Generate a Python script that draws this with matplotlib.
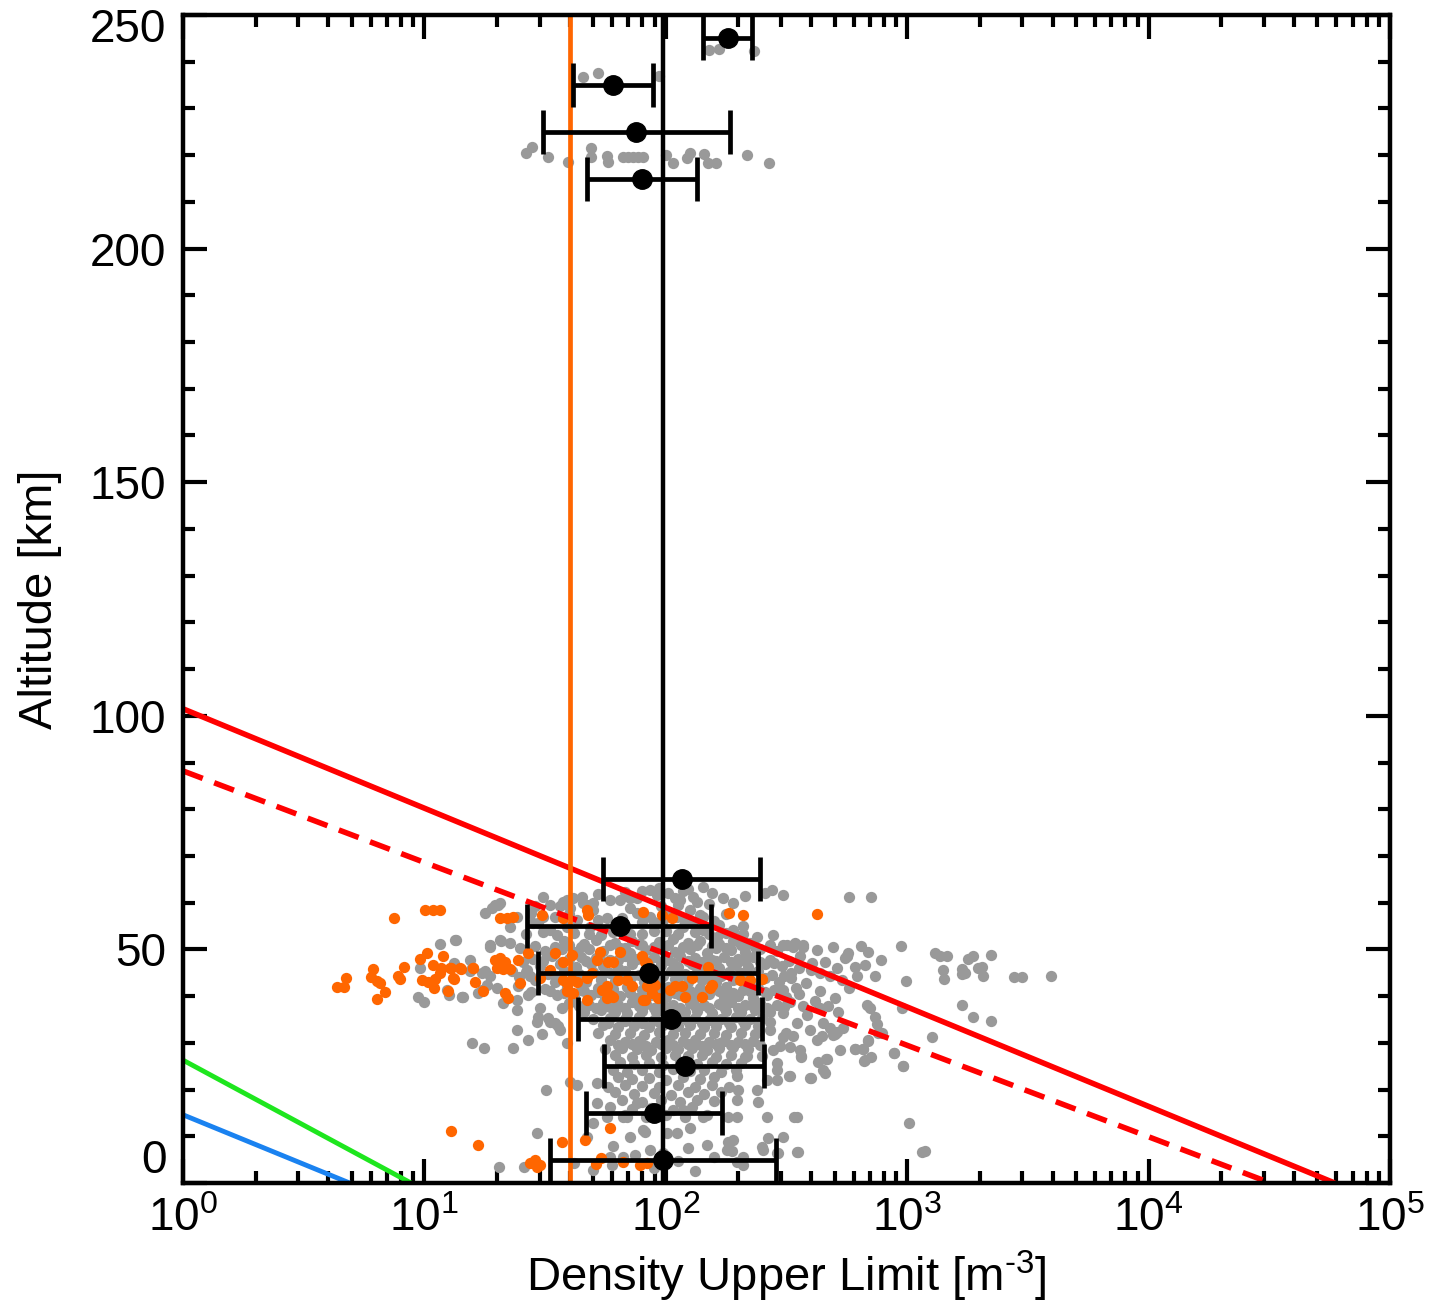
import matplotlib
matplotlib.use("Agg")
import numpy as np
import matplotlib.pyplot as plt
import matplotlib.transforms as mtransforms
from matplotlib.ticker import FixedLocator, MultipleLocator, LogLocator, NullFormatter

plt.rcParams['font.family'] = ['Liberation Sans', 'DejaVu Sans']
plt.rcParams['mathtext.fontset'] = 'custom'
plt.rcParams['mathtext.rm'] = 'Liberation Sans'
plt.rcParams['mathtext.it'] = 'Liberation Sans:italic'
plt.rcParams['mathtext.bf'] = 'Liberation Sans:bold'

# ---------------------------------------------------------------------------
# Individual density upper limits: (log10 density [m^-3], altitude [km])
# ---------------------------------------------------------------------------
gray_points = [
    # high-altitude group
    (2.179, 242.5), (2.220, 242.7), (2.365, 242.3),
    (1.657, 236.7), (1.719, 237.6), (1.972, 237.0),
    (1.421, 220.5), (1.446, 221.7), (1.512, 219.6), (1.595, 218.5), (1.690, 221.5),
    (1.690, 219.6), (1.756, 219.8), (1.761, 218.5), (1.823, 219.6), (1.843, 219.6),
    (1.864, 219.6), (1.885, 219.6), (1.906, 219.6), (2.001, 220.0), (2.030, 218.3),
    (2.088, 219.4), (2.100, 220.5), (2.158, 220.2), (2.175, 218.3), (2.208, 218.3),
    (2.336, 220.0), (2.428, 218.3),
    # low-density fringe
    (1.065, 51.2), (1.131, 52.0), (0.982, 46.0), (1.123, 47.0), (1.189, 45.4),
    (0.975, 39.9), (1.000, 38.8), (1.103, 40.3), (1.157, 39.9), (1.224, 40.6),
    (1.292, 59.5), (1.313, 59.9), (1.251, 57.7), (1.272, 50.9), (1.316, 51.7),
    (1.355, 51.3), (1.396, 50.3), (1.127, 52.0), (1.196, 46.0), (1.251, 45.3),
    (1.272, 44.2), (1.362, 45.3), (1.424, 45.6), (1.437, 44.2), (1.092, 41.3),
    (1.154, 39.9), (1.258, 42.4), (1.237, 41.3), (1.299, 41.7), (1.389, 42.1),
    (1.430, 40.3), (1.382, 39.2), (1.479, 37.4), (1.472, 35.6), (1.513, 35.3),
    (1.520, 34.5), (1.465, 34.5), (1.541, 34.2), (1.555, 33.5), (1.382, 32.8),
    (1.493, 61.3), (1.458, 59.2), (1.520, 59.5), (1.575, 60.2), (1.589, 60.6),
    (1.617, 61.0), (1.651, 61.3), (1.541, 57.0), (1.472, 55.6), (1.603, 58.8),
    (1.672, 59.5), (1.700, 59.9), (1.279, 58.8), (1.306, 59.5), (1.237, 44.9),
    (1.161, 39.9), (1.327, 38.5), (1.382, 37.0), (1.562, 32.8), (1.189, 47.7),
    (1.272, 50.6), (1.313, 52.0), (1.355, 54.9), (1.382, 57.0), (1.451, 55.6),
    (1.493, 57.0), (1.520, 54.2), (1.589, 54.9), (1.631, 56.3), (1.686, 54.9),
    (1.755, 56.7), (1.700, 58.4), (1.658, 59.9), (1.562, 59.2),
    # upper band 52-63 km
    (1.769, 60.6), (1.810, 60.6), (1.852, 60.9), (1.900, 62.4), (1.934, 62.7),
    (1.962, 61.7), (2.010, 62.0), (2.059, 60.6), (2.073, 62.4), (2.114, 61.3),
    (2.128, 60.2), (2.155, 63.4), (2.238, 60.9), (2.280, 59.9), (1.852, 58.8),
    (1.879, 57.7), (1.934, 57.0), (2.003, 57.7), (2.045, 57.0), (2.100, 58.4),
    (2.155, 57.0), (2.073, 54.9), (2.155, 54.2), (2.211, 52.7), (2.280, 54.2),
    (2.321, 53.4), (2.376, 52.7), (2.411, 62.0), (2.439, 62.7), (2.487, 61.6),
    (2.759, 61.3), (2.850, 61.3), (2.445, 53.1), (2.501, 51.0), (2.535, 51.3),
    (2.570, 51.0), (2.756, 49.2), (2.742, 48.1),
    (1.80, 55.3), (1.95, 55.8), (2.00, 53.9), (2.11, 55.6), (2.20, 56.1),
    (1.90, 53.4), (2.25, 57.5), (1.73, 53.0), (2.05, 59.5), (1.98, 59.3), (2.18, 59.8),
    (1.42, 53.3), (1.49, 53.8), (1.55, 53.1), (1.62, 53.6), (1.68, 53.2), (1.78, 53.7),
    (1.85, 53.3), (1.95, 53.9), (2.05, 53.4), (2.12, 53.8), (2.18, 53.2), (2.25, 53.6),
    (2.32, 55.0),
    (1.44, 57.8), (1.60, 57.5), (1.72, 56.2), (1.82, 56.8), (1.90, 55.9), (1.99, 56.4),
    (2.08, 56.0), (2.14, 57.4), (2.22, 55.2),
    (1.72, 61.8), (1.83, 62.2), (1.88, 61.0), (1.97, 63.2), (2.04, 61.0), (2.09, 63.0),
    (2.19, 62.0), (2.33, 61.5),
    # dense core 36-52 km
    (1.58, 51.8), (1.66, 51.2), (1.71, 52.1), (1.79, 51.4), (1.86, 51.9), (1.90, 51.0),
    (1.97, 51.6), (2.03, 52.2), (2.09, 51.3), (2.14, 51.9), (2.22, 51.1), (2.28, 51.7),
    (2.35, 51.4),
    (1.46, 50.8), (1.54, 50.5), (1.60, 51.0), (1.65, 50.6), (1.77, 50.9), (1.83, 50.4),
    (1.89, 51.1), (1.95, 50.6), (2.01, 50.9), (2.07, 50.5), (2.13, 51.0), (2.19, 50.7),
    (2.25, 50.4), (2.31, 50.9), (2.37, 50.6), (2.43, 51.0),
    (1.50, 49.6), (1.57, 50.1), (1.62, 49.4), (1.68, 50.0), (1.74, 49.7), (1.81, 50.3),
    (1.85, 49.2), (1.92, 49.9), (1.99, 50.2), (2.04, 49.5), (2.10, 50.0), (2.17, 49.3),
    (2.21, 50.4), (2.27, 49.8), (2.33, 49.4), (2.39, 50.1), (2.46, 49.6),
    (1.45, 48.0), (1.53, 48.5), (1.60, 47.9), (1.65, 48.4), (1.71, 48.1), (1.77, 47.7),
    (1.83, 48.6), (1.88, 48.0), (1.95, 48.3), (2.01, 47.8), (2.06, 48.5), (2.12, 48.1),
    (2.19, 47.7), (2.24, 48.4), (2.30, 48.0), (2.36, 48.3), (2.43, 47.8),
    (1.41, 47.3), (1.49, 47.6), (1.57, 47.2), (1.67, 47.5), (1.74, 47.3), (1.80, 47.7),
    (1.86, 47.2), (1.92, 47.5), (1.98, 47.4), (2.03, 47.1), (2.09, 47.6), (2.15, 47.3),
    (2.21, 47.5), (2.27, 47.2), (2.33, 47.6), (2.39, 47.4), (2.45, 47.1), (2.51, 47.5),
    (1.48, 46.4), (1.56, 46.9), (1.63, 46.3), (1.69, 46.8), (1.74, 46.5), (1.80, 46.1),
    (1.86, 46.9), (1.93, 46.4), (1.98, 46.7), (2.05, 46.2), (2.11, 46.8), (2.16, 46.5),
    (2.22, 46.1), (2.29, 46.7), (2.34, 46.3), (2.41, 46.8), (2.48, 46.4), (2.55, 46.0),
    (1.42, 45.2), (1.51, 44.8), (1.58, 45.3), (1.64, 44.7), (1.70, 45.1), (1.77, 44.9),
    (1.83, 45.4), (1.89, 44.6), (1.96, 45.0), (2.02, 45.3), (2.08, 44.8), (2.13, 45.2),
    (2.20, 44.7), (2.26, 45.1), (2.31, 44.9), (2.38, 45.3), (2.44, 44.6), (2.52, 45.0),
    (1.39, 44.0), (1.48, 44.3), (1.55, 44.0), (1.62, 44.4), (1.67, 43.9), (1.73, 44.2),
    (1.80, 44.0), (1.86, 44.4), (1.93, 43.9), (1.99, 44.2), (2.05, 44.0), (2.11, 44.4),
    (2.17, 43.9), (2.23, 44.2), (2.29, 44.0), (2.34, 44.4), (2.41, 43.9), (2.49, 44.2),
    (1.46, 43.5), (1.54, 43.1), (1.61, 43.6), (1.67, 43.0), (1.73, 43.4), (1.79, 43.2),
    (1.85, 43.7), (1.91, 43.0), (1.97, 43.3), (2.04, 43.6), (2.09, 43.1), (2.15, 43.4),
    (2.21, 43.0), (2.28, 43.5), (2.35, 43.2), (2.40, 43.6), (2.47, 43.1),
    (1.50, 41.5), (1.59, 41.9), (1.65, 41.4), (1.72, 41.8), (1.78, 41.6), (1.84, 42.0),
    (1.90, 41.3), (1.95, 41.7), (2.01, 41.9), (2.07, 41.4), (2.14, 41.8), (2.19, 41.5),
    (2.25, 41.9), (2.32, 41.4), (2.38, 41.7), (2.45, 41.3), (2.54, 41.8),
    (1.44, 40.8), (1.52, 41.1), (1.58, 40.7), (1.66, 41.0), (1.72, 40.8), (1.78, 41.2),
    (1.85, 40.7), (1.91, 41.0), (1.98, 40.9), (2.04, 40.6), (2.10, 41.1), (2.16, 40.8),
    (2.22, 41.0), (2.28, 40.7), (2.35, 41.1), (2.41, 40.8), (2.48, 41.0),
    (1.55, 40.2), (1.62, 39.8), (1.69, 40.3), (1.75, 39.9), (1.81, 40.1), (1.88, 39.7),
    (1.94, 40.3), (2.00, 39.9), (2.06, 40.2), (2.12, 39.8), (2.18, 40.4), (2.24, 39.9),
    (2.30, 40.1), (2.36, 39.7), (2.42, 40.2), (2.50, 39.8),
    (1.60, 38.6), (1.68, 38.2), (1.74, 38.5), (1.80, 38.1), (1.86, 38.7), (1.92, 38.3),
    (1.98, 38.5), (2.03, 38.0), (2.10, 38.6), (2.16, 38.2), (2.22, 38.4), (2.27, 38.7),
    (2.33, 38.1), (2.39, 38.5), (2.46, 38.2),
    (1.57, 37.5), (1.64, 37.8), (1.71, 37.4), (1.77, 37.7), (1.83, 37.5), (1.89, 37.9),
    (1.95, 37.4), (2.00, 37.7), (2.06, 37.5), (2.12, 37.8), (2.18, 37.4), (2.24, 37.7),
    (2.30, 37.5), (2.36, 37.8), (2.42, 37.4), (2.49, 37.6),
    (1.66, 36.6), (1.73, 37.0), (1.79, 36.7), (1.84, 36.4), (1.90, 36.9), (1.96, 36.5),
    (2.02, 37.0), (2.08, 36.6), (2.13, 36.9), (2.19, 36.4), (2.25, 36.8), (2.31, 36.5),
    (2.37, 37.0), (2.43, 36.6),
    # 14-36 km
    (1.70, 35.0), (1.77, 35.4), (1.83, 35.1), (1.89, 35.5), (1.95, 34.9), (2.01, 35.3),
    (2.06, 35.0), (2.12, 35.4), (2.18, 34.9), (2.23, 35.2), (2.29, 35.5), (2.35, 35.0),
    (2.40, 35.3),
    (1.76, 34.3), (1.83, 34.6), (1.90, 34.2), (1.97, 34.5), (2.03, 34.3), (2.09, 34.7),
    (2.15, 34.2), (2.21, 34.5), (2.26, 34.3), (2.32, 34.6), (2.43, 34.4),
    (1.74, 33.8), (1.80, 33.4), (1.87, 33.7), (1.93, 33.3), (1.99, 33.8), (2.05, 33.5),
    (2.10, 33.9), (2.16, 33.4), (2.21, 33.7), (2.27, 33.3), (2.33, 33.8), (2.38, 33.5),
    (1.72, 32.2), (1.79, 31.8), (1.85, 32.1), (1.91, 31.7), (1.97, 32.3), (2.03, 31.9),
    (2.08, 32.2), (2.14, 31.8), (2.20, 32.1), (2.25, 31.7), (2.31, 32.2), (2.37, 31.9),
    (1.77, 30.6), (1.83, 30.2), (1.89, 30.5), (1.96, 30.1), (2.01, 30.7), (2.07, 30.3),
    (2.12, 30.6), (2.18, 30.2), (2.24, 30.5), (2.30, 30.1), (2.36, 30.4),
    (1.80, 29.5), (1.86, 29.8), (1.92, 29.4), (1.98, 29.7), (2.03, 29.5), (2.09, 29.8),
    (2.15, 29.4), (2.21, 29.7), (2.27, 29.5), (2.33, 29.8), (2.39, 29.6),
    (1.75, 28.6), (1.82, 29.0), (1.88, 28.7), (1.94, 28.5), (2.00, 29.0), (2.05, 28.6),
    (2.11, 28.9), (2.17, 28.5), (2.22, 28.8), (2.28, 29.1), (2.34, 28.6),
    (1.79, 27.4), (1.86, 27.0), (1.92, 27.3), (1.98, 26.9), (2.04, 27.4), (2.09, 27.1),
    (2.15, 27.5), (2.21, 27.0), (2.27, 27.3), (2.33, 26.9), (2.40, 27.2),
    (1.81, 25.8), (1.87, 25.4), (1.93, 25.7), (1.99, 25.3), (2.06, 25.8), (2.13, 25.5),
    (2.19, 25.9), (2.25, 25.4), (2.31, 25.7),
    (1.78, 24.2), (1.84, 23.8), (1.90, 24.1), (1.97, 23.7), (2.03, 24.3), (2.10, 23.9),
    (2.16, 24.2), (2.23, 23.8), (2.29, 24.1),
    (1.80, 22.6), (1.86, 22.2), (1.93, 22.5), (2.00, 22.1), (2.07, 22.6), (2.14, 22.3),
    (2.20, 22.7),
    (1.76, 20.6), (1.83, 21.0), (1.90, 20.7), (1.97, 20.5), (2.05, 21.0), (2.12, 20.6),
    (2.19, 20.9), (2.26, 20.5),
    (1.79, 19.4), (1.87, 19.0), (1.95, 19.3), (2.02, 18.9), (2.09, 19.4), (2.16, 19.1),
    (2.23, 19.5),
    (1.82, 17.8), (1.90, 17.4), (1.98, 17.7), (2.06, 17.3), (2.13, 17.8), (2.20, 17.5),
    (1.77, 16.2), (1.86, 15.8), (1.94, 16.1), (2.03, 15.7), (2.11, 16.2),
    (1.83, 14.6), (1.92, 14.2), (2.00, 14.5), (2.08, 14.1), (2.17, 14.6),
    # high-density tail
    (2.432, 50.6), (2.487, 51.0), (2.528, 50.6), (2.570, 50.6), (2.556, 48.5),
    (2.604, 47.1), (2.639, 44.9), (2.680, 44.2), (2.728, 43.5), (2.749, 48.5),
    (2.694, 50.6), (2.625, 49.9), (2.487, 41.3), (2.515, 38.8), (2.570, 37.8),
    (2.487, 36.3), (2.542, 34.2), (2.597, 32.8), (2.653, 34.2), (2.694, 31.7),
    (2.708, 32.4), (2.625, 30.6), (2.556, 28.5), (2.487, 31.3), (2.515, 29.2),
    (2.445, 28.5), (2.432, 32.8), (2.459, 25.7), (2.418, 22.1), (2.515, 22.8),
    (2.597, 22.4), (2.653, 24.2), (2.542, 14.2), (2.418, 14.2), (2.487, 9.9),
    (2.404, 7.1), (2.542, 6.7), (2.459, 6.4), (2.280, 9.2), (2.252, 7.1), (2.321, 5.6),
    (2.045, 10.7), (2.100, 11.7), (2.155, 14.2), (2.073, 15.6), (2.003, 10.7),
    (1.935, 7.1), (1.852, 9.9), (1.824, 5.6), (1.769, 5.6), (1.907, 11.3),
    (1.879, 17.1), (1.838, 14.2), (1.672, 9.9), (1.700, 12.8), (1.713, 17.1),
    (2.225, 30.0), (2.335, 27.2), (2.294, 22.8), (2.301, 19.9), (2.294, 17.8),
    (2.383, 17.4), (2.376, 19.9), (2.531, 14.1), (2.259, 14.1), (2.294, 14.1),
    (2.259, 8.8), (2.273, 6.9), (2.397, 7.7), (2.425, 9.6), (2.466, 6.4), (2.549, 6.7),
    (2.294, 4.6), (2.321, 3.9), (2.459, 24.2), (2.459, 22.0), (2.512, 22.8),
    (2.600, 22.4), (2.659, 23.5), (2.473, 29.3), (2.559, 26.9), (2.632, 26.0),
    (2.664, 26.5), (2.722, 28.4), (2.784, 28.6), (2.816, 28.6), (2.821, 26.2),
    (2.849, 26.9), (2.839, 30.6), (2.880, 32.2), (2.945, 27.9), (2.981, 25.0),
    (3.104, 31.3), (3.009, 12.8), (3.060, 6.7), (3.074, 6.9), (2.500, 32.0),
    (2.528, 31.5), (2.646, 31.5), (2.694, 32.0),
    (2.807, 50.8), (2.836, 49.4), (2.752, 48.5), (2.892, 47.7), (2.973, 50.8),
    (2.825, 46.7), (2.784, 46.2), (2.867, 44.3), (2.993, 43.3), (3.115, 49.2),
    (3.136, 48.5), (3.164, 48.6), (3.149, 45.6), (3.153, 43.7), (3.229, 45.8),
    (3.239, 44.9), (3.225, 44.7), (3.253, 47.9), (3.274, 48.6), (3.292, 46.0),
    (3.308, 46.3), (3.312, 44.2), (3.349, 48.8), (3.444, 44.1), (3.474, 44.0),
    (3.596, 44.2), (3.225, 38.1), (3.274, 35.6), (3.347, 34.7), (2.977, 37.4),
    (2.832, 38.1), (2.846, 37.4), (2.867, 35.6), (2.874, 34.0), (2.894, 32.2),
    (2.839, 30.5), (2.818, 28.7), (2.825, 26.4), (2.784, 28.7), (2.666, 26.6),
    (2.562, 27.1), (2.701, 31.9), (2.680, 33.2), (2.735, 33.2), (2.715, 36.7),
    (2.639, 37.5), (2.584, 36.0), (2.945, 27.8), (2.984, 25.1),
    (2.60, 45.5), (2.66, 47.3), (2.58, 42.8), (2.64, 41.0), (2.70, 39.6), (2.52, 43.9),
    (2.76, 41.8), (2.79, 44.3), (2.62, 39.0), (2.55, 40.5), (2.71, 46.0), (2.67, 37.8),
    # near-surface
    (1.196, 29.9), (1.248, 29.0), (1.368, 28.8), (1.430, 30.6), (1.486, 31.9),
    (1.504, 19.8), (1.465, 10.7), (1.310, 3.5), (1.414, 3.5), (1.589, 29.9),
    (1.603, 21.7), (1.631, 21.0), (1.713, 21.4), (1.755, 14.2), (1.824, 14.2),
    (1.914, 11.0), (1.872, 6.0), (1.776, 3.9),
    (1.62, 4.2), (1.70, 2.8), (1.95, 3.2), (2.05, 4.8), (2.12, 2.6), (2.20, 5.5),
    (1.99, 6.5), (2.17, 8.2), (2.09, 7.5), (1.78, 8.0),
]

orange_points = [
    (1.003, 58.4), (1.034, 58.4), (1.065, 58.4), (0.873, 56.7), (0.982, 47.9),
    (1.011, 49.3), (1.076, 48.6), (1.034, 46.7), (1.067, 46.0), (1.065, 45.0),
    (1.109, 46.1), (1.152, 45.9), (1.200, 46.0), (1.211, 43.0), (0.788, 45.8),
    (0.674, 43.9), (0.637, 42.0), (0.668, 42.0), (0.778, 44.0), (0.802, 43.2),
    (0.816, 42.9), (0.837, 40.9), (0.802, 39.4), (0.892, 44.2), (0.899, 43.6),
    (0.916, 46.2), (0.991, 43.5), (1.016, 43.1), (1.044, 43.7), (1.041, 41.7),
    (1.099, 41.2), (1.124, 43.7),
    (1.313, 56.7), (1.341, 56.7), (1.368, 56.9), (1.106, 46.0), (1.147, 46.0),
    (1.120, 43.8), (1.202, 46.0), (1.244, 41.0), (1.292, 47.7), (1.313, 48.1),
    (1.334, 47.4), (1.299, 46.0), (1.327, 45.8), (1.355, 45.8), (1.389, 47.7),
    (1.430, 49.2), (1.396, 42.8), (1.334, 40.6), (1.348, 39.6), (1.486, 57.4),
    (1.575, 56.7), (1.672, 58.4), (1.679, 57.4), (1.541, 49.2), (1.575, 47.4),
    (1.610, 48.8), (1.479, 43.8), (1.520, 45.6), (1.575, 43.5), (1.589, 42.8),
    (1.610, 43.5), (1.631, 43.1), (1.589, 41.0), (1.617, 40.6), (1.672, 43.8),
    (1.693, 44.9), (1.672, 39.2), (1.713, 47.7), (1.727, 49.5), (1.762, 47.4),
    (1.783, 47.4), (1.810, 49.5), (1.734, 41.3), (1.755, 42.1), (1.769, 40.3),
    (1.838, 43.5), (1.859, 42.1), (1.803, 43.5), (1.900, 48.5), (1.921, 47.0),
    (1.921, 42.1), (1.941, 40.6), (1.907, 39.2), (1.755, 39.6), (1.783, 39.9),
    (1.907, 58.1), (2.024, 56.7), (1.983, 57.4), (2.263, 57.8), (2.321, 57.4),
    (2.628, 57.6), (1.914, 47.4), (1.941, 43.5), (1.955, 42.4), (1.914, 39.2),
    (1.969, 39.6), (2.017, 41.3), (2.038, 42.1), (2.066, 42.1), (2.080, 39.9),
    (2.107, 43.8), (2.149, 39.9), (2.176, 46.3), (2.190, 42.4), (2.183, 41.7),
    (2.307, 43.5), (2.349, 43.5), (2.397, 43.7),
    (1.109, 11.1), (1.221, 8.1), (1.437, 4.2), (1.458, 4.9), (1.479, 3.8),
    (1.465, 3.5), (1.571, 8.7), (1.665, 9.1), (1.769, 11.7), (1.730, 5.3),
    (1.709, 4.0), (1.824, 4.4), (1.893, 3.9), (1.921, 4.2),
]

# Binned medians with spread, per 10 km altitude bin
bin_altitude = [5, 15, 25, 35, 45, 55, 65, 215, 225, 235, 245]
bin_density = [97.7, 89.4, 120.0, 104.7, 85.2, 64.6, 116.4, 80.0, 75.3, 60.6, 180.5]
bin_low = [33.1, 46.6, 55.6, 43.4, 29.6, 26.7, 55.1, 47.0, 30.9, 41.1, 143.0]
bin_high = [286.0, 171.4, 255.0, 249.5, 241.7, 153.9, 245.6, 134.3, 184.5, 88.8, 227.0]

# Reference levels [m^-3]
overall_mean_density = 97.1
detection_floor_density = 40.1

# Model profiles: (density endpoints, altitude endpoints)
red_solid_density = [1.0, 5.9e4]
red_solid_altitude = [101.5, 0.0]
red_dashed_density = [1.0, 3.2e4]
red_dashed_altitude = [88.2, 0.0]
green_density = [1.0, 8.8]
green_altitude = [26.3, 0.0]
blue_density = [1.0, 4.9]
blue_altitude = [14.6, 0.0]

x_tick_values = [1e0, 1e1, 1e2, 1e3, 1e4, 1e5]
x_tick_labels = [r'$10^{0}$', r'$10^{1}$', r'$10^{2}$', r'$10^{3}$', r'$10^{4}$', r'$10^{5}$']
y_tick_values = [0, 50, 100, 150, 200, 250]
y_tick_labels = ['0', '50', '100', '150', '200', '250']

GRAY = '#999999'
ORANGE = '#FF6600'

fig = plt.figure(figsize=(14.31, 13.06), dpi=100)
ax = fig.add_axes([0.12788, 0.09418, 0.84347, 0.89433])

gx = [10 ** p[0] for p in gray_points]
gy = [p[1] for p in gray_points]
ox = [10 ** p[0] for p in orange_points]
oy = [p[1] for p in orange_points]

ax.scatter(gx, gy, s=66, color=GRAY, linewidths=0, zorder=2)
ax.scatter(ox, oy, s=66, color=ORANGE, linewidths=0, zorder=3)

ax.plot(red_solid_density, red_solid_altitude, color='#FF0000', lw=4.0, zorder=4,
        solid_capstyle='butt')
ax.plot(red_dashed_density, red_dashed_altitude, color='#FF0000', lw=4.0, zorder=4,
        dashes=(3.8, 2.2))
ax.plot(green_density, green_altitude, color='#1EE61E', lw=3.5, zorder=4)
ax.plot(blue_density, blue_altitude, color='#1A82F0', lw=3.5, zorder=4)

ax.axvline(detection_floor_density, color=ORANGE, lw=3.4, zorder=4)
ax.axvline(overall_mean_density, color='black', lw=3.2, zorder=4)

dens = np.array(bin_density)
xerr = [dens - np.array(bin_low), np.array(bin_high) - dens]
ax.errorbar(bin_density, bin_altitude, xerr=xerr, fmt='o', color='black',
            ms=14, lw=3.4, capsize=16, capthick=3.4, zorder=6)

ax.set_xscale('log')
ax.set_xlim(1, 1e5)
ax.set_ylim(0, 250)

ax.xaxis.set_major_locator(FixedLocator(x_tick_values))
ax.set_xticklabels(x_tick_labels)
ax.xaxis.set_minor_locator(LogLocator(base=10, subs=np.arange(2, 10)))
ax.xaxis.set_minor_formatter(NullFormatter())
ax.yaxis.set_major_locator(FixedLocator(y_tick_values))
ax.set_yticklabels(y_tick_labels)
ax.yaxis.set_minor_locator(MultipleLocator(10))

ax.tick_params(which='both', direction='in', top=True, right=True, width=3.0,
               colors='black', labelsize=33)
ax.tick_params(which='major', length=17)
ax.tick_params(which='minor', length=8.6)
ax.tick_params(axis='y', which='major', pad=12)
ax.tick_params(axis='x', which='major', pad=10)

for sp in ax.spines.values():
    sp.set_linewidth(3.2)
    sp.set_zorder(7)

yt = ax.yaxis.get_major_ticks()
yt[0].label1.set_verticalalignment('bottom')
yt[-1].label1.set_verticalalignment('top')
yt[-1].label1.set_transform(yt[-1].label1.get_transform() +
                            mtransforms.ScaledTranslation(0, 5 / 72, fig.dpi_scale_trans))

ax.set_ylabel('Altitude [km]', fontsize=34, labelpad=20)
ax.set_xlabel('Density Upper Limit [m$^{\\mathregular{\u20103}}$]', fontsize=34, labelpad=6)

fig.savefig('out.png', dpi=100)
